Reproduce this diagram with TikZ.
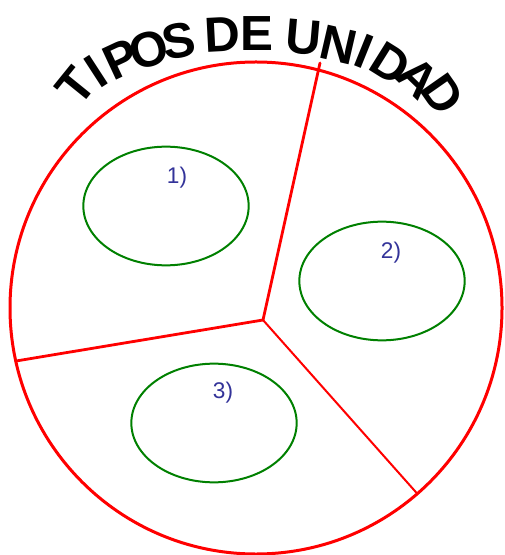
\documentclass[tikz,border=0pt]{standalone}
\usepackage{fontspec}
\setmainfont{Liberation Sans}
\usetikzlibrary{shapes.geometric}
\definecolor{redline}{RGB}{255,0,0}
\definecolor{greenline}{RGB}{0,128,0}
\definecolor{labelblue}{RGB}{51,51,153}
\tikzset{
  outer/.style={draw=redline, line width=2.25pt},
  divider/.style={draw=redline, line width=2.1pt},
  thindivider/.style={draw=redline, line width=1.5pt},
  unit/.style={ellipse, draw=greenline, line width=1.5pt, minimum width=124pt, minimum height=89pt, inner sep=0pt},
  num/.style={text=labelblue, font=\fontsize{17pt}{20pt}\selectfont, inner sep=0pt},
  letter/.style={font=\bfseries\fontsize{37pt}{40pt}\selectfont, inner sep=0pt, anchor=center}
}
\begin{document}
\begin{tikzpicture}[x=0.75pt,y=-0.75pt]
\useasboundingbox (0,0) rectangle (505,555);
% outer circle
\node[circle, minimum size=369pt, inner sep=0pt, outer] (big) at (256,308) {};
% dividers
\coordinate (hub) at (263,320);
\coordinate (topend) at (320,63);
\coordinate (leftend) at (16,361);
\coordinate (brend) at (418,494.5);
\draw[divider, line cap=round] (hub) -- (topend);
\draw[divider, line cap=round] (hub) -- (leftend);
\draw[thindivider] (hub) -- (brend);
% units
\node[unit] (e1) at (166,206) {};
\node[unit] (e2) at (382,281) {};
\node[unit] (e3) at (214,423) {};
\node[num] (l1) at (177,178) {1)};
\node[num] (l2) at (391,253) {2)};
\node[num] (l3) at (223,393) {3)};
% title: TIPOS DE UNIDAD on an arch
\node[letter, rotate=51] (t1) at (76,86) {T};
\node[letter, rotate=33] (t2) at (96,72) {I};
\node[letter, rotate=25] (t3) at (121,59) {P};
\node[letter, rotate=17] (t4) at (149,50) {O};
\node[letter, rotate=10] (t5) at (179,41) {S};
\node[letter, rotate=3] (t6) at (222,35) {D};
\node[letter, rotate=0] (t7) at (256.5,34) {E};
\node[letter, rotate=-5] (t8) at (304,37) {U};
\node[letter, rotate=-13] (t9) at (339,45) {N};
\node[letter, rotate=-22] (t10) at (364,51) {I};
\node[letter, rotate=-32] (t11) at (391,64) {D};
\node[letter, rotate=-44] (t12) at (418,78) {A};
\node[letter, rotate=-55] (t13) at (443,94) {D};
\end{tikzpicture}
\end{document}
